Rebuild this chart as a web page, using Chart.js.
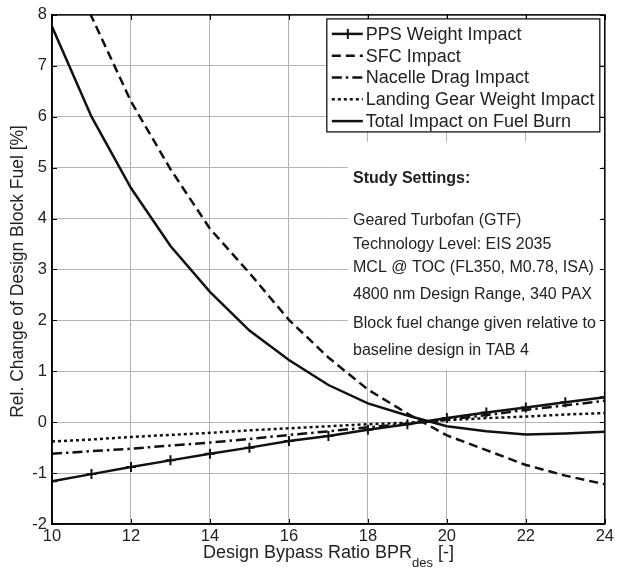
<!DOCTYPE html>
<html>
<head>
<meta charset="utf-8">
<script src="https://cdn.jsdelivr.net/npm/chart.js@4.4.0/dist/chart.umd.min.js"></script>
<style>
  html, body { margin: 0; padding: 0; background: #fff; }
</style>
</head>
<body>
<canvas id="bprChart" width="617" height="570"></canvas>
<script>
// Design bypass ratio sweep (x) and relative block fuel change [%]
const bpr = [10, 11, 12, 13, 14, 15, 16, 17, 18, 19, 20, 21, 22, 23, 24];
const ppsWeight   = [-1.16, -1.02, -0.88, -0.75, -0.62, -0.50, -0.37, -0.27, -0.15, -0.04, 0.08, 0.19, 0.29, 0.39, 0.49];
const sfcImpact   = [10.1, 7.97, 6.30, 4.97, 3.80, 2.93, 2.01, 1.27, 0.64, 0.17, -0.26, -0.55, -0.84, -1.05, -1.22];
const nacelleDrag = [-0.62, -0.57, -0.52, -0.46, -0.40, -0.33, -0.25, -0.18, -0.10, -0.03, 0.05, 0.14, 0.24, 0.33, 0.42];
const gearWeight  = [-0.38, -0.34, -0.29, -0.25, -0.21, -0.16, -0.12, -0.08, -0.04, -0.01, 0.04, 0.08, 0.11, 0.15, 0.18];
const totalImpact = [7.77, 6.00, 4.60, 3.46, 2.56, 1.80, 1.22, 0.73, 0.37, 0.13, -0.08, -0.18, -0.24, -0.22, -0.19];

const xTicks = [10, 12, 14, 16, 18, 20, 22, 24];
const yTicks = [-2, -1, 0, 1, 2, 3, 4, 5, 6, 7, 8];

const seriesNames = ['PPS Weight Impact', 'SFC Impact', 'Nacelle Drag Impact', 'Landing Gear Weight Impact', 'Total Impact on Fuel Burn'];
const studyTitle = 'Study Settings:';
const studyLines = [
  'Geared Turbofan (GTF)',
  'Technology Level: EIS 2035',
  'MCL @ TOC (FL350, M0.78, ISA)',
  '4800 nm Design Range, 340 PAX',
  'Block fuel change given relative to',
  'baseline design in TAB 4'
];
const xTitle = ['Design Bypass Ratio BPR', 'des', ' [-]'];
const yTitle = 'Rel. Change of Design Block Fuel [%]';

const FONT = "'Liberation Sans', Arial, sans-serif";
const INK = '#111';

const toPoints = vals => vals.map((v, i) => ({ x: bpr[i], y: v }));

// line style per series (dash pattern, marker)
const styles = [
  { dash: [], marker: true },
  { dash: [9, 5], marker: false },
  { dash: [10, 4, 2.5, 4], marker: false },
  { dash: [3, 3], marker: false },
  { dash: [], marker: false }
];
const seriesData = [ppsWeight, sfcImpact, nacelleDrag, gearWeight, totalImpact];

const datasets = seriesData.map((vals, i) => ({
  label: seriesNames[i],
  data: toPoints(vals),
  borderColor: INK,
  backgroundColor: INK,
  borderWidth: 2.5,
  borderDash: styles[i].dash,
  tension: 0,
  clip: 0,
  pointStyle: 'cross',
  pointRadius: styles[i].marker ? 5 : 0,
  pointBorderWidth: 2,
  pointBorderColor: INK
}));

// white panel behind the study notes, frame, inward ticks, legend and titles
const decor = {
  id: 'decor',
  beforeDatasetsDraw(chart) {
    const { ctx, chartArea: a } = chart;
    ctx.save();
    ctx.fillStyle = '#fff';
    ctx.fillRect(a.left + 296, a.top + 127, a.right - a.left - 299, 228);
    ctx.restore();
  },
  afterDraw(chart) {
    const { ctx, chartArea: a, scales } = chart;
    ctx.save();
    // frame
    ctx.strokeStyle = '#000';
    ctx.lineWidth = 1.5;
    ctx.strokeRect(a.left, a.top, a.right - a.left, a.bottom - a.top);
    // inward tick marks
    ctx.lineWidth = 1;
    const tl = 5;
    ctx.beginPath();
    xTicks.forEach(v => {
      const px = Math.round(scales.x.getPixelForValue(v)) + 0.5;
      ctx.moveTo(px, a.bottom); ctx.lineTo(px, a.bottom - tl);
      ctx.moveTo(px, a.top); ctx.lineTo(px, a.top + tl);
    });
    yTicks.forEach(v => {
      const py = Math.round(scales.y.getPixelForValue(v)) + 0.5;
      ctx.moveTo(a.left, py); ctx.lineTo(a.left + tl, py);
      ctx.moveTo(a.right, py); ctx.lineTo(a.right - tl, py);
    });
    ctx.stroke();

    // legend
    const lx = a.right - 278, ly = a.top + 4, lw = 273, lh = 113;
    ctx.fillStyle = '#fff';
    ctx.fillRect(lx, ly, lw, lh);
    ctx.strokeStyle = '#000';
    ctx.lineWidth = 1.2;
    ctx.strokeRect(lx, ly, lw, lh);
    ctx.font = '18px ' + FONT;
    ctx.textBaseline = 'middle';
    ctx.textAlign = 'left';
    seriesNames.forEach((name, i) => {
      const y = ly + 15 + i * 21.8;
      ctx.strokeStyle = INK;
      ctx.lineWidth = 2.5;
      ctx.setLineDash(styles[i].dash);
      ctx.beginPath();
      ctx.moveTo(lx + 5, y); ctx.lineTo(lx + 36, y);
      ctx.stroke();
      ctx.setLineDash([]);
      if (styles[i].marker) {
        ctx.lineWidth = 2;
        ctx.beginPath();
        ctx.moveTo(lx + 21, y - 5); ctx.lineTo(lx + 21, y + 5);
        ctx.stroke();
      }
      ctx.fillStyle = '#222';
      ctx.fillText(name, lx + 39, y + 1);
    });

    // study settings notes
    const tx = a.left + 301;
    ctx.fillStyle = '#222';
    ctx.font = 'bold 16px ' + FONT;
    ctx.fillText(studyTitle, tx, 179);
    ctx.font = '16px ' + FONT;
    const lineY = [221, 245, 268, 295, 324, 351];
    studyLines.forEach((t, i) => ctx.fillText(t, tx, lineY[i]));

    // x title with subscript
    const big = '18px ' + FONT, small = '13px ' + FONT;
    ctx.font = big;
    const w0 = ctx.measureText(xTitle[0]).width;
    const w2 = ctx.measureText(xTitle[2]).width;
    ctx.font = small;
    const w1 = ctx.measureText(xTitle[1]).width;
    let x0 = (a.left + a.right) / 2 - (w0 + w1 + w2) / 2;
    ctx.fillStyle = '#222';
    ctx.font = big;
    ctx.fillText(xTitle[0], x0, 553);
    ctx.font = small;
    ctx.fillText(xTitle[1], x0 + w0, 563);
    ctx.font = big;
    ctx.fillText(xTitle[2], x0 + w0 + w1, 553);

    // y title
    ctx.font = '17.5px ' + FONT;
    ctx.translate(18, (a.top + a.bottom) / 2 + 2);
    ctx.rotate(-Math.PI / 2);
    ctx.textAlign = 'center';
    ctx.fillText(yTitle, 0, 0);
    ctx.restore();
  }
};

const ctx = document.getElementById('bprChart').getContext('2d');
const chart = new Chart(ctx, {
  type: 'line',
  data: { datasets },
  plugins: [decor],
  options: {
    responsive: false,
    animation: false,
    devicePixelRatio: 1,
    layout: { padding: { top: 13, right: 9, left: 0, bottom: 0 } },
    plugins: { legend: { display: false }, tooltip: { enabled: false } },
    scales: {
      x: {
        type: 'linear',
        min: xTicks[0],
        max: xTicks[xTicks.length - 1],
        afterBuildTicks: s => { s.ticks = xTicks.map(v => ({ value: v })); },
        afterFit: s => { s.height = 46; },
        ticks: { font: { family: FONT, size: 16.5 }, color: '#222', padding: 3, maxRotation: 0 },
        grid: { color: '#b4b4b4', lineWidth: 1, drawTicks: false },
        border: { color: '#000', width: 1.5 }
      },
      y: {
        type: 'linear',
        min: yTicks[0],
        max: yTicks[yTicks.length - 1],
        afterBuildTicks: s => { s.ticks = yTicks.map(v => ({ value: v })); },
        afterFit: s => { s.width = 52; },
        ticks: { font: { family: FONT, size: 16.5 }, color: '#222', padding: 5 },
        grid: { color: '#b4b4b4', lineWidth: 1, drawTicks: false },
        border: { color: '#000', width: 1.5 }
      }
    }
  }
});
</script>
</body>
</html>
